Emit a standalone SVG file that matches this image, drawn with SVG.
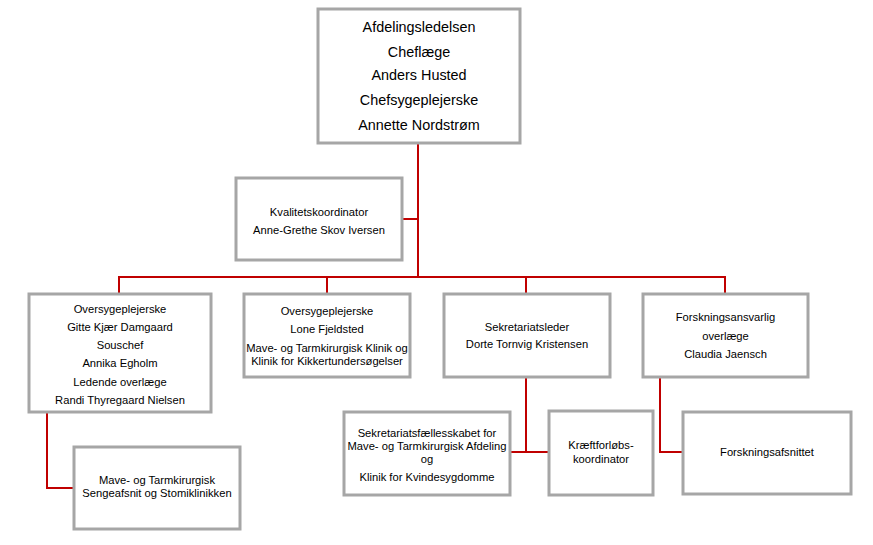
<svg xmlns="http://www.w3.org/2000/svg" width="873" height="545" viewBox="0 0 873 545">
<style>
.box{fill:#ffffff;stroke:#a6a6a6;stroke-width:3}
.con{fill:none;stroke:#c00000;stroke-width:2}
text{font-family:"Liberation Sans",Arial,sans-serif;fill:#000;text-anchor:middle;dominant-baseline:central}
.big{font-size:14.4px}
.sm{font-size:11.2px}
</style>
<rect width="873" height="545" fill="#ffffff"/>
<g id="connectors">
<path class="con" d="M418,143 V277"/>
<path class="con" d="M402,219 H418"/>
<path class="con" d="M119,294 V277 H725 V294"/>
<path class="con" d="M327,277 V294"/>
<path class="con" d="M526,277 V294"/>
<path class="con" d="M47,412 V488 H74"/>
<path class="con" d="M526,377 V452"/>
<path class="con" d="M510,452 H549"/>
<path class="con" d="M660,377 V452 H683"/>
</g>
<g id="afdelingsledelsen">
<rect class="box" x="318" y="9" width="202" height="134"/>
<text class="big" x="419" y="27">Afdelingsledelsen</text>
<text class="big" x="419" y="52">Cheflæge</text>
<text class="big" x="419" y="75">Anders Husted</text>
<text class="big" x="419" y="100">Chefsygeplejerske</text>
<text class="big" x="419" y="125">Annette Nordstrøm</text>
</g>
<g id="kvalitetskoordinator">
<rect class="box" x="236" y="178" width="166" height="82"/>
<text class="sm" x="319" y="212">Kvalitetskoordinator</text>
<text class="sm" x="319" y="230">Anne-Grethe Skov Iversen</text>
</g>
<g id="oversygeplejerske1">
<rect class="box" x="29" y="294" width="182" height="118"/>
<text class="sm" x="120" y="308.5">Oversygeplejerske</text>
<text class="sm" x="120" y="326.5">Gitte Kjær Damgaard</text>
<text class="sm" x="120" y="345">Souschef</text>
<text class="sm" x="120" y="363">Annika Egholm</text>
<text class="sm" x="120" y="381.5">Ledende overlæge</text>
<text class="sm" x="120" y="399.5">Randi Thyregaard Nielsen</text>
</g>
<g id="oversygeplejerske2">
<rect class="box" x="244" y="294" width="166" height="83"/>
<text class="sm" x="327" y="311">Oversygeplejerske</text>
<text class="sm" x="327" y="329">Lone Fjeldsted</text>
<text class="sm" x="327" y="348">Mave- og Tarmkirurgisk Klinik og</text>
<text class="sm" x="327" y="361">Klinik for Kikkertundersøgelser</text>
</g>
<g id="sekretariatsleder">
<rect class="box" x="444" y="294" width="166" height="83"/>
<text class="sm" x="527" y="326.5">Sekretariatsleder</text>
<text class="sm" x="527" y="344">Dorte Tornvig Kristensen</text>
</g>
<g id="forskningsansvarlig">
<rect class="box" x="643" y="294" width="165" height="83"/>
<text class="sm" x="725.5" y="317">Forskningsansvarlig</text>
<text class="sm" x="725.5" y="335.5">overlæge</text>
<text class="sm" x="725.5" y="354">Claudia Jaensch</text>
</g>
<g id="sengeafsnit">
<rect class="box" x="74" y="447" width="166" height="82"/>
<text class="sm" x="157" y="480">Mave- og Tarmkirurgisk</text>
<text class="sm" x="157" y="493">Sengeafsnit og Stomiklinikken</text>
</g>
<g id="sekretariatsfaellesskabet">
<rect class="box" x="344" y="412" width="166" height="83"/>
<text class="sm" x="427" y="433">Sekretariatsfællesskabet for</text>
<text class="sm" x="427" y="446">Mave- og Tarmkirurgisk Afdeling</text>
<text class="sm" x="427" y="459">og</text>
<text class="sm" x="427" y="477">Klinik for Kvindesygdomme</text>
</g>
<g id="kraeftforloebskoordinator">
<rect class="box" x="549" y="411" width="104" height="84"/>
<text class="sm" x="601" y="445">Kræftforløbs-</text>
<text class="sm" x="601" y="459">koordinator</text>
</g>
<g id="forskningsafsnittet">
<rect class="box" x="683" y="412" width="168" height="82"/>
<text class="sm" x="767" y="452">Forskningsafsnittet</text>
</g>
</svg>
